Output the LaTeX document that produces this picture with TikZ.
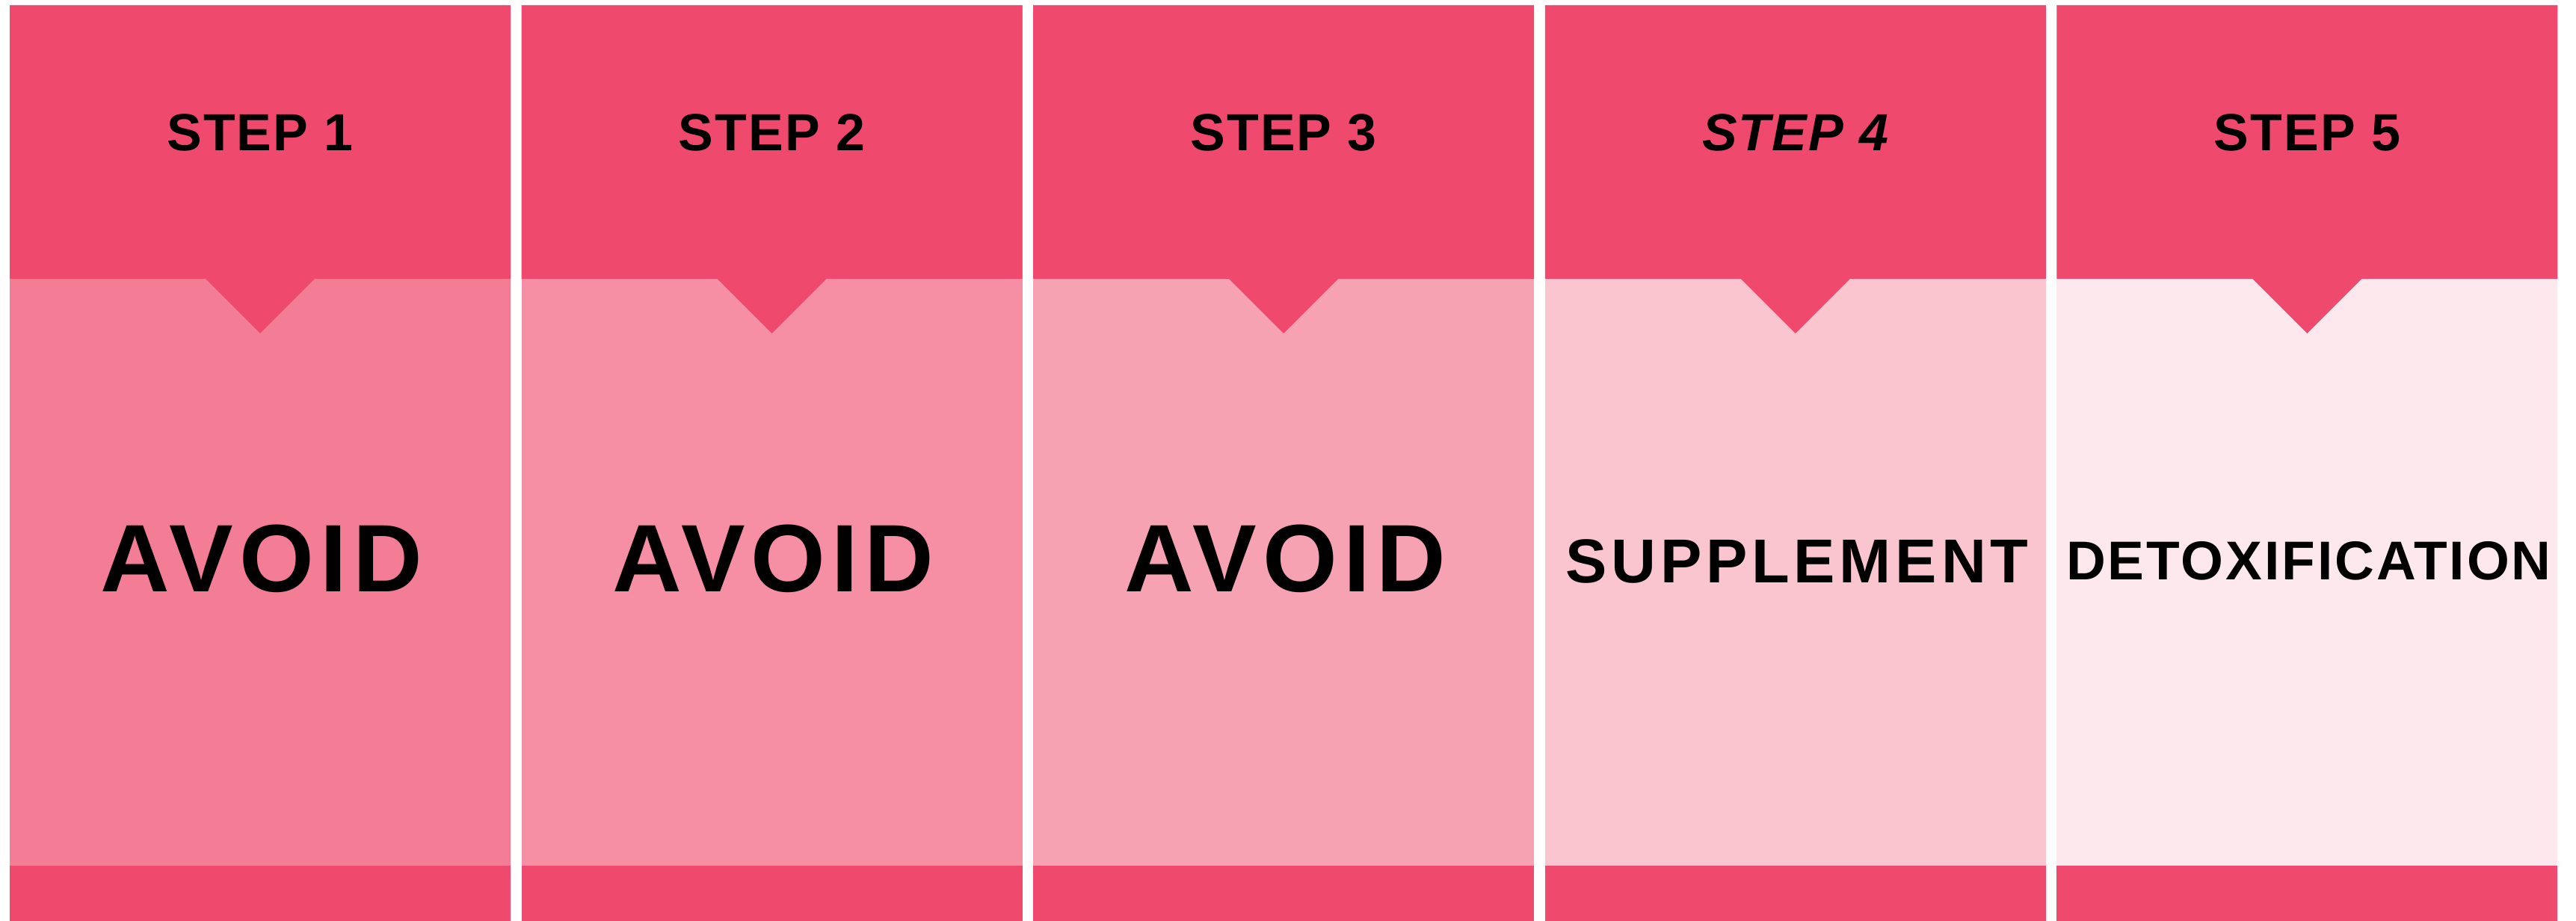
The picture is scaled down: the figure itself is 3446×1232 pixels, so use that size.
\documentclass[tikz,border=0pt]{standalone}
\usepackage{fontspec}
\setmainfont{Liberation Sans}
\definecolor{stphead}{HTML}{EF4A6D}
\definecolor{stpbodya}{HTML}{F27D95}
\definecolor{stpbodyb}{HTML}{F68FA4}
\definecolor{stpbodyc}{HTML}{F7A2B2}
\definecolor{stpbodyd}{HTML}{FBC5D0}
\definecolor{stpbodye}{HTML}{FDE9ED}
\begin{document}
\begin{tikzpicture}[x=0.1mm,y=0.1mm,
 steplabel/.style={anchor=base,inner sep=0pt,font=\fontsize{19.9pt}{24pt}\bfseries\addfontfeatures{LetterSpace=3}},
 biglabel/.style={anchor=base,inner sep=0pt,font=\fontsize{36.5pt}{42pt}\bfseries\addfontfeatures{LetterSpace=6.5}},
 midlabel/.style={anchor=base,inner sep=0pt,font=\fontsize{23.6pt}{28pt}\bfseries\addfontfeatures{LetterSpace=7}},
 smalllabel/.style={anchor=base,inner sep=0pt,font=\fontsize{20.8pt}{25pt}\bfseries\addfontfeatures{LetterSpace=4}}
]
\useasboundingbox (0,0) rectangle (3446,1232);
% panels: body, bottom band, header with pointer
\foreach \i/\col in {0/stpbodya,1/stpbodyb,2/stpbodyc,3/stpbodyd,4/stpbodye}{
  \pgfmathsetmacro{\xl}{13+684.6*\i}
  \pgfmathsetmacro{\xr}{\xl+670}
  \pgfmathsetmacro{\xm}{\xl+335}
  \fill[\col] (\xl,0) rectangle (\xr,1225);
  \fill[stphead] (\xl,0) rectangle (\xr,74);
  \fill[stphead] (\xl,1225) -- (\xr,1225) -- (\xr,859) -- (\xm+73,859)
    -- (\xm,786) -- (\xm-73,859) -- (\xl,859) -- cycle;
}
\node[steplabel] (step1) at (348,1030) {STEP 1};
\node[steplabel] (step2) at (1032.6,1030) {STEP 2};
\node[steplabel] (step3) at (1717.2,1030) {STEP 3};
\node[steplabel,font=\fontsize{19.9pt}{24pt}\bfseries\itshape\addfontfeatures{LetterSpace=3}] (step4) at (2401.8,1030) {STEP 4};
\node[steplabel] (step5) at (3086.4,1030) {STEP 5};
\node[biglabel] (act1) at (350,440) {AVOID};
\node[biglabel] (act2) at (1034.6,440) {AVOID};
\node[biglabel] (act3) at (1719.2,440) {AVOID};
\node[midlabel] (act4) at (2403.8,452) {SUPPLEMENT};
\node[smalllabel] (act5) at (3088.4,456) {DETOXIFICATION};
\end{tikzpicture}
\end{document}
